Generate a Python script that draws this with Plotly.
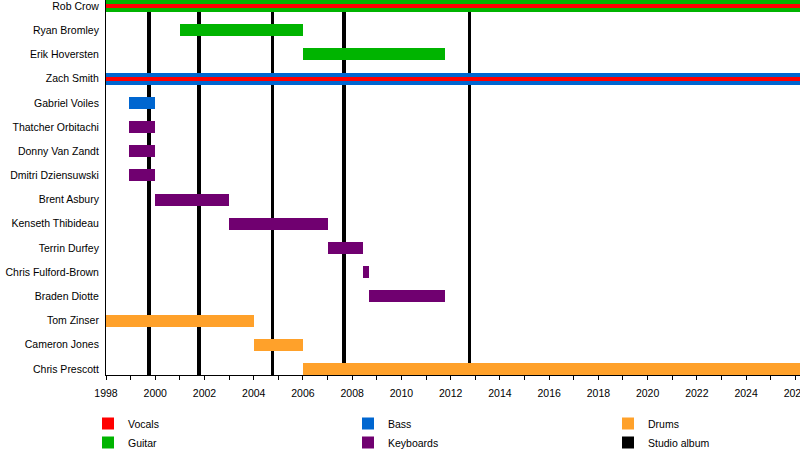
import plotly.graph_objects as go

members = ["Rob Crow", "Ryan Bromley", "Erik Hoversten", "Zach Smith", "Gabriel Voiles",
           "Thatcher Orbitachi", "Donny Van Zandt", "Dmitri Dziensuwski", "Brent Asbury",
           "Kenseth Thibideau", "Terrin Durfey", "Chris Fulford-Brown", "Braden Diotte",
           "Tom Zinser", "Cameron Jones", "Chris Prescott"]

END = 2026.3

vocals_members = ["Rob Crow", "Zach Smith"]
vocals_start = [1998.0, 1998.0]
vocals_end = [END, END]

guitar_members = ["Rob Crow", "Ryan Bromley", "Erik Hoversten"]
guitar_start = [1998.0, 2001.0, 2006.0]
guitar_end = [END, 2006.0, 2011.75]

bass_members = ["Zach Smith", "Gabriel Voiles"]
bass_start = [1998.0, 1998.93]
bass_end = [END, 2000.0]

keys_members = ["Thatcher Orbitachi", "Donny Van Zandt", "Dmitri Dziensuwski", "Brent Asbury",
                "Kenseth Thibideau", "Terrin Durfey", "Chris Fulford-Brown", "Braden Diotte"]
keys_start = [1998.93, 1998.93, 1998.93, 2000.0, 2003.0, 2007.0, 2008.45, 2008.7]
keys_end = [2000.0, 2000.0, 2000.0, 2003.0, 2007.0, 2008.45, 2008.7, 2011.75]

drums_members = ["Tom Zinser", "Cameron Jones", "Chris Prescott"]
drums_start = [1998.0, 2004.0, 2006.0]
drums_end = [2004.0, 2006.0, END]

album_years = [1999.75, 2001.78, 2004.75, 2007.67, 2012.78]

tick_vals = list(range(1998, 2027, 2))
minor_vals = list(range(1999, 2027, 2))

C_VOC = "#FF0000"
C_GTR = "#00B400"
C_BASS = "#0066D0"
C_KEYS = "#700070"
C_DRUM = "#FFA12A"
C_ALB = "#000000"

FONT = "Liberation Sans, Arial, sans-serif"
FS = 10.5

fig = go.Figure()

# studio album lines (drawn behind the member bars)
fig.add_trace(go.Bar(
    name="Studio album", x=album_years, y=[1] * len(album_years), base=0,
    width=0.13, orientation="v", marker=dict(color=C_ALB, line_width=0),
    xaxis="x", yaxis="y", legend="legend3", legendrank=2, hoverinfo="skip"))

def role(name, mem, s, e, color, width, legend, rank):
    fig.add_trace(go.Bar(
        name=name, y=mem, x=[b - a for a, b in zip(s, e)], base=s,
        orientation="h", width=width, marker=dict(color=color, line_width=0),
        xaxis="x", yaxis="y2", legend=legend, legendrank=rank, hoverinfo="skip"))

role("Guitar", guitar_members, guitar_start, guitar_end, C_GTR, 0.5, "legend", 2)
role("Bass", bass_members, bass_start, bass_end, C_BASS, 0.5, "legend2", 1)
role("Keyboards", keys_members, keys_start, keys_end, C_KEYS, 0.5, "legend2", 2)
role("Drums", drums_members, drums_start, drums_end, C_DRUM, 0.5, "legend3", 1)
role("Vocals", vocals_members, vocals_start, vocals_end, C_VOC, 0.16, "legend", 1)

def leg(xpix):
    return dict(orientation="v", xref="container", yref="container",
                x=xpix / 800, y=1 - 409 / 450, xanchor="left", yanchor="top",
                traceorder="normal", font=dict(size=FS), itemclick=False,
                bgcolor="rgba(0,0,0,0)", borderwidth=0)

fig.update_layout(
    width=800, height=450,
    margin=dict(l=106, r=0, t=0, b=75, pad=0, autoexpand=False),
    paper_bgcolor="white", plot_bgcolor="white",
    barmode="overlay", bargap=0,
    font=dict(family=FONT, size=FS, color="black"),
    xaxis=dict(range=[1998, 2026.19], tickmode="array", tickvals=tick_vals,
               ticktext=[str(v) for v in tick_vals], automargin=False,
               ticklabeloverflow="allow",
               showgrid=False, zeroline=False, showline=True, linecolor="black",
               linewidth=1, ticks="outside", ticklen=4, tickcolor="black",
               ticklabelstandoff=4,
               minor=dict(tickmode="array", tickvals=minor_vals, ticks="outside",
                          ticklen=4, tickcolor="black", showgrid=False),
               tickfont=dict(size=FS)),
    yaxis=dict(range=[0, 1], visible=False, fixedrange=True, automargin=False),
    yaxis2=dict(overlaying="y", side="left", type="category",
                categoryorder="array", categoryarray=members, automargin=False,
                range=[15.25, -0.25], showgrid=False, zeroline=False,
                showline=True, linecolor="black", linewidth=1,
                ticks="", ticklabelstandoff=4, tickfont=dict(size=FS)),
    legend=leg(88),
    legend2=leg(348),
    legend3=leg(608),
    showlegend=True,
    hovermode=False,
)

fig.write_html("out.html", config={"displayModeBar": False, "staticPlot": True},
               post_script="document.body.style.margin='0';document.body.style.overflow='hidden';")
